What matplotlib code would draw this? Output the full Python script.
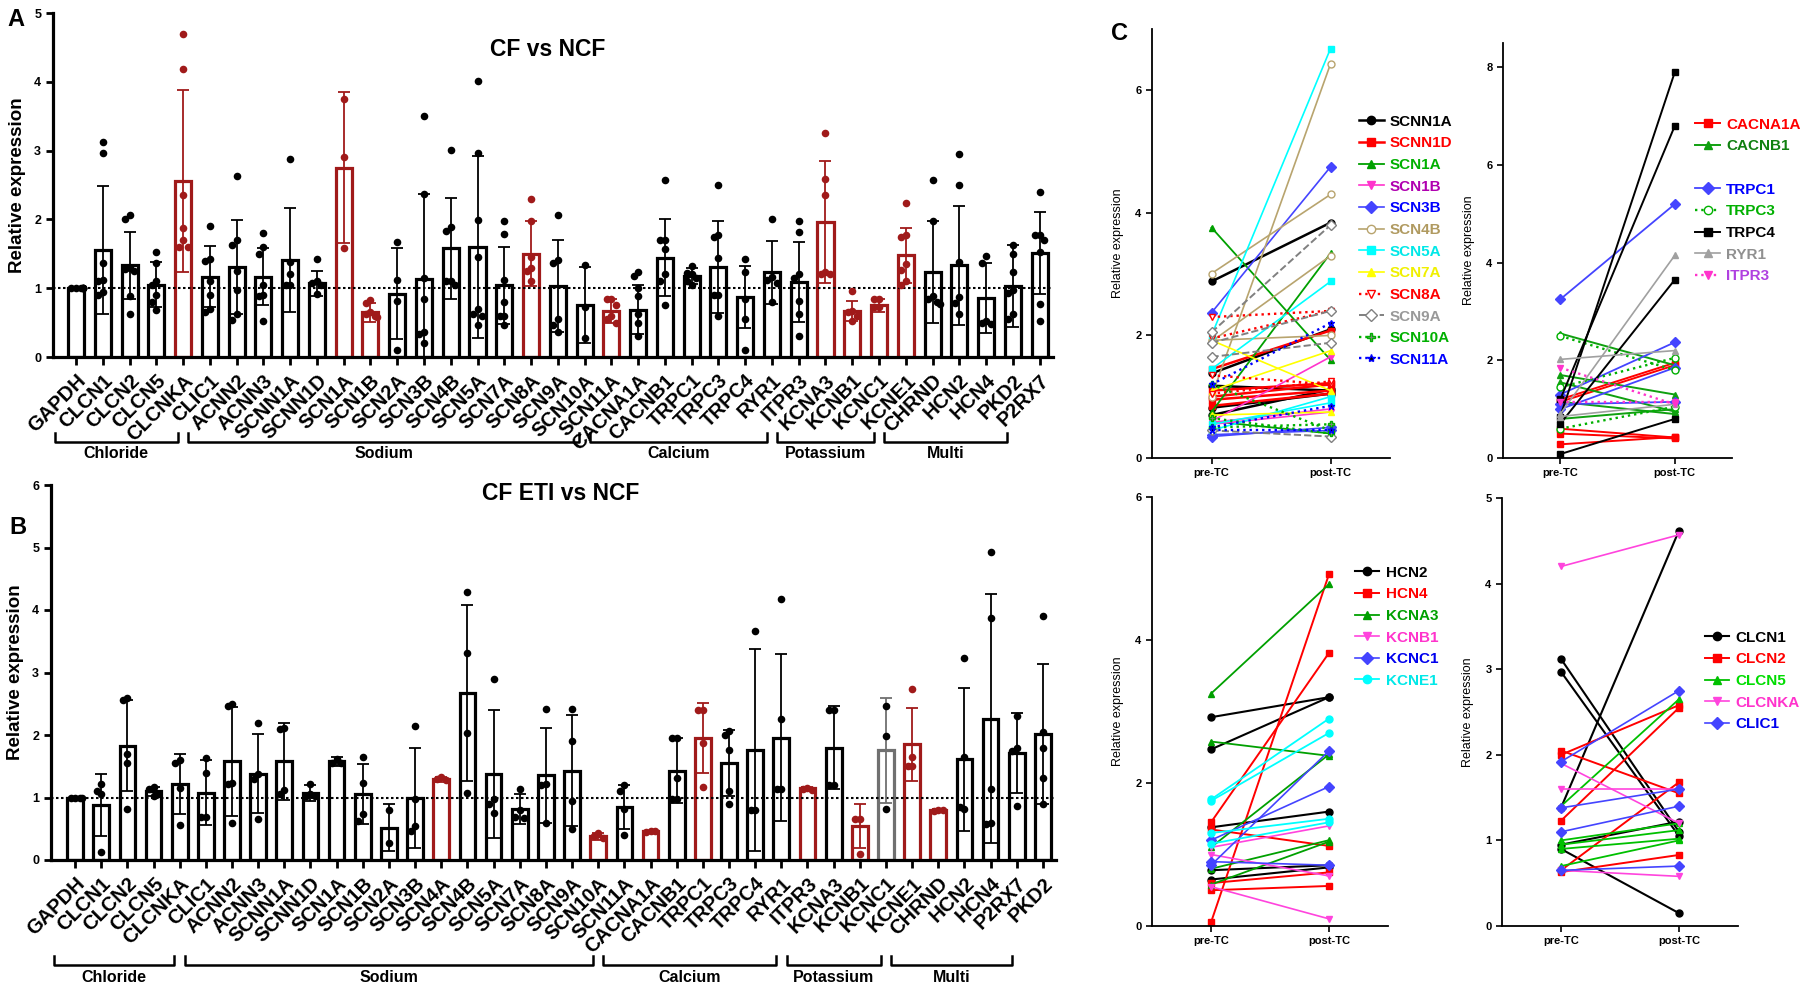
import numpy as np
import matplotlib
matplotlib.use('Agg')
import matplotlib.pyplot as plt
import matplotlib.transforms as mtransforms
from matplotlib.lines import Line2D

plt.rcParams['font.family'] = ['Liberation Sans', 'DejaVu Sans']

# ---------------- Panel A : CF vs NCF ----------------
genes_a = ['GAPDH', 'CLCN1', 'CLCN2', 'CLCN5', 'CLCNKA', 'CLIC1', 'ACNN2', 'ACNN3',
           'SCNN1A', 'SCNN1D', 'SCN1A', 'SCN1B', 'SCN2A', 'SCN3B', 'SCN4B', 'SCN5A',
           'SCN7A', 'SCN8A', 'SCN9A', 'SCN10A', 'SCN11A', 'CACNA1A', 'CACNB1', 'TRPC1',
           'TRPC3', 'TRPC4', 'RYR1', 'ITPR3', 'KCNA3', 'KCNB1', 'KCNC1', 'KCNE1',
           'CHRND', 'HCN2', 'HCN4', 'PKD2', 'P2RX7']
mean_a = [1.0, 1.56, 1.33, 1.05, 2.56, 1.17, 1.31, 1.17, 1.41, 1.07, 2.75, 0.65, 0.92,
          1.14, 1.58, 1.6, 1.04, 1.5, 1.03, 0.76, 0.67, 0.69, 1.44, 1.18, 1.31, 0.87,
          1.23, 1.09, 1.96, 0.67, 0.75, 1.48, 1.23, 1.33, 0.86, 1.03, 1.51]
sd_a = [0.0, 0.93, 0.49, 0.33, 1.32, 0.45, 0.68, 0.41, 0.75, 0.18, 1.1, 0.14, 0.66,
        1.23, 0.73, 1.32, 0.56, 0.47, 0.67, 0.55, 0.17, 0.35, 0.56, 0.12, 0.67, 0.45,
        0.46, 0.58, 0.89, 0.15, 0.09, 0.4, 0.74, 0.87, 0.51, 0.6, 0.6]
dots_a = [
    [1, 1, 1, 1, 1, 1, 1],
    [3.12, 2.96, 1.37, 1.12, 1.1, 0.95, 0.9],
    [2.06, 2.0, 1.3, 1.28, 1.25, 0.88, 0.62],
    [1.53, 1.37, 1.1, 1.05, 0.9, 0.8, 0.68],
    [4.69, 4.18, 2.36, 1.88, 1.7, 1.6, 1.6],
    [1.9, 1.42, 1.4, 1.1, 0.9, 0.7, 0.65],
    [2.63, 1.7, 1.63, 1.25, 0.97, 0.62, 0.54],
    [1.8, 1.6, 1.5, 1.05, 0.9, 0.88, 0.53],
    [2.88, 1.38, 1.2, 1.05, 1.05],
    [1.43, 1.1, 1.08, 1.05, 0.92],
    [3.75, 2.91, 1.58],
    [0.83, 0.78, 0.65, 0.62, 0.6, 0.58],
    [1.67, 1.12, 0.82, 0.1],
    [3.51, 2.37, 1.15, 0.85, 0.37, 0.33, 0.2],
    [3.01, 1.89, 1.83, 1.1, 1.1, 1.05],
    [4.01, 2.96, 1.99, 1.45, 0.7, 0.63, 0.6, 0.47],
    [1.98, 1.79, 1.12, 0.8, 0.6, 0.6, 0.47],
    [2.3, 1.97, 1.45, 1.3, 1.25, 1.1],
    [2.06, 1.41, 1.36, 0.55, 0.46, 0.37],
    [1.34, 0.72, 0.28],
    [0.84, 0.84, 0.75, 0.6, 0.55, 0.5],
    [1.23, 1.18, 1.0, 0.88, 0.62, 0.5, 0.3],
    [2.57, 1.7, 1.7, 1.57, 1.2, 1.1, 0.75],
    [1.32, 1.22, 1.2, 1.15, 1.1, 1.05],
    [2.5, 1.77, 1.74, 1.44, 0.9, 0.9, 0.6],
    [1.43, 1.23, 0.85, 0.55, 0.1],
    [2.0, 1.16, 1.12, 1.08, 0.8],
    [1.97, 1.82, 1.2, 1.15, 0.82, 0.62, 0.31],
    [3.26, 2.59, 2.35, 1.23, 1.2, 1.2],
    [0.96, 0.67, 0.65, 0.6, 0.52],
    [0.84, 0.84, 0.72, 0.72],
    [2.24, 1.77, 1.75, 1.35, 1.27, 1.1, 1.05],
    [2.57, 1.98, 0.88, 0.85, 0.8, 0.77],
    [2.95, 2.5, 1.38, 0.87, 0.78, 0.63],
    [1.47, 1.37, 0.53, 0.5, 0.48],
    [1.63, 1.5, 1.23, 0.98, 0.93, 0.62, 0.55],
    [2.4, 1.77, 1.77, 1.7, 1.52, 0.77, 0.52],
]
red_a = ['CLCNKA', 'SCN1A', 'SCN1B', 'SCN8A', 'SCN11A', 'KCNA3', 'KCNB1', 'KCNC1', 'KCNE1']
groups_a = [('Chloride', 'CLCN1', 'CLIC1'), ('Sodium', 'ACNN2', 'SCN11A'),
            ('Calcium', 'CACNA1A', 'ITPR3'), ('Potassium', 'KCNA3', 'KCNE1'),
            ('Multi', 'CHRND', 'P2RX7')]

# ---------------- Panel B : CF ETI vs NCF ----------------
genes_b = ['GAPDH', 'CLCN1', 'CLCN2', 'CLCN5', 'CLCNKA', 'CLIC1', 'ACNN2', 'ACNN3',
           'SCNN1A', 'SCNN1D', 'SCN1A', 'SCN1B', 'SCN2A', 'SCN3B', 'SCN4A', 'SCN4B',
           'SCN5A', 'SCN7A', 'SCN8A', 'SCN9A', 'SCN10A', 'SCN11A', 'CACNA1A', 'CACNB1',
           'TRPC1', 'TRPC3', 'TRPC4', 'RYR1', 'ITPR3', 'KCNA3', 'KCNB1', 'KCNC1',
           'KCNE1', 'CHRND', 'HCN2', 'HCN4', 'P2RX7', 'PKD2']
mean_b = [1.0, 0.88, 1.83, 1.1, 1.22, 1.08, 1.58, 1.38, 1.58, 1.07, 1.58, 1.06, 0.52,
          1.0, 1.29, 2.67, 1.38, 0.81, 1.36, 1.43, 0.38, 0.85, 0.46, 1.43, 1.96, 1.55,
          1.76, 1.96, 1.15, 1.8, 0.55, 1.76, 1.85, 0.8, 1.61, 2.26, 1.71, 2.02]
sd_b = [0.0, 0.5, 0.73, 0.07, 0.48, 0.52, 0.87, 0.63, 0.62, 0.13, 0.07, 0.48, 0.38,
        0.8, 0.04, 1.41, 1.02, 0.24, 0.76, 0.89, 0.06, 0.35, 0.01, 0.52, 0.56, 0.53,
        1.62, 1.34, 0.02, 0.66, 0.35, 0.84, 0.59, 0.02, 1.14, 1.99, 0.64, 1.12]
dots_b = [
    [1.0, 1.0, 1.0, 1.0],
    [1.22, 1.1, 1.06, 0.13],
    [2.6, 2.56, 1.69, 1.55, 0.82],
    [1.17, 1.14, 1.05, 1.02],
    [1.6, 1.55, 1.15, 0.56],
    [1.63, 1.39, 0.69, 0.69],
    [2.5, 2.47, 1.23, 1.21, 0.6],
    [2.19, 1.38, 1.3, 0.65],
    [2.12, 2.1, 1.12, 1.05],
    [1.22, 1.05, 1.03, 1.02],
    [1.62, 1.56, 1.55],
    [1.65, 1.24, 0.74, 0.63],
    [0.8, 0.28],
    [2.15, 0.98, 0.55, 0.47],
    [1.33, 1.3, 1.28],
    [4.29, 3.31, 2.03, 1.07],
    [2.9, 0.98, 0.9, 0.76],
    [1.14, 0.8, 0.69, 0.68],
    [2.42, 1.22, 1.2, 0.6],
    [2.42, 1.9, 0.95, 0.5],
    [0.43, 0.38, 0.35],
    [1.2, 1.1, 0.82, 0.4],
    [0.46, 0.45, 0.46],
    [1.96, 1.96, 1.32, 0.97, 0.97],
    [2.4, 2.4, 1.88, 1.17],
    [2.06, 2.0, 1.76, 1.1, 0.9],
    [3.67, 0.8, 0.8],
    [4.18, 2.26, 1.14, 1.14],
    [1.15, 1.13, 1.12],
    [2.4, 2.4, 1.2, 1.2],
    [0.65, 0.65, 0.1],
    [2.47, 1.98, 0.82],
    [2.73, 1.65, 1.5, 1.5],
    [0.8, 0.79, 0.8],
    [3.24, 1.65, 0.82, 0.85],
    [4.93, 3.88, 1.13, 0.6, 0.57],
    [2.3, 1.8, 1.75, 0.86],
    [3.9, 2.05, 1.8, 1.32, 0.9],
]
red_b = ['SCN4A', 'SCN10A', 'CACNA1A', 'TRPC1', 'ITPR3', 'KCNB1', 'KCNE1', 'CHRND']
grey_b = ['KCNC1']
groups_b = [('Chloride', 'CLCN1', 'CLIC1'), ('Sodium', 'ACNN2', 'SCN11A'),
            ('Calcium', 'CACNA1A', 'ITPR3'), ('Potassium', 'KCNA3', 'KCNE1'),
            ('Multi', 'CHRND', 'PKD2')]

# ---------------- Panel C : pre-TC / post-TC pairs ----------------
sodium_genes = ['SCNN1A', 'SCNN1D', 'SCN1A', 'SCN1B', 'SCN3B', 'SCN4B', 'SCN5A',
                'SCN7A', 'SCN8A', 'SCN9A', 'SCN10A', 'SCN11A']
sodium_pre = [[2.88, 1.38, 1.18, 0.82, 0.7], [1.45, 1.1, 1.0, 0.95, 0.85],
              [3.76, 0.75, 0.6], [0.6, 0.55, 0.58], [2.37, 0.35, 0.38],
              [3.01, 1.0, 1.9, 1.92], [2.0, 1.45, 0.55, 0.45], [1.92, 1.1, 0.7],
              [2.3, 1.95, 1.35, 1.05], [2.05, 1.65, 1.88, 0.45], [1.2, 0.65, 0.5],
              [1.2, 0.5, 0.45]]
sodium_post = [[3.84, 2.1, 1.1, 1.05, 1.12], [2.08, 1.22, 1.2, 1.1, 1.05],
               [1.6, 3.34, 0.4], [1.65, 0.75, 0.8], [4.75, 0.5, 0.45],
               [4.3, 6.43, 3.3, 2.0], [6.68, 2.88, 0.9, 1.0], [1.1, 1.75, 0.75],
               [2.4, 2.4, 1.2, 1.25], [3.8, 1.88, 2.4, 0.35], [0.45, 0.4, 0.55],
               [2.2, 0.85, 0.45]]

calcium_genes = ['CACNA1A', 'CACNB1', 'TRPC1', 'TRPC3', 'TRPC4', 'RYR1', 'ITPR3']
calcium_pre = [[1.2, 1.15, 0.6, 0.5, 0.28], [2.55, 1.7, 1.55, 1.15, 0.8],
               [3.25, 1.3, 1.1, 1.0], [2.5, 0.6, 1.45], [0.08, 0.85, 1.2, 0.7],
               [2.02, 0.9, 0.85], [1.85, 1.15]]
calcium_post = [[1.95, 1.9, 0.42, 0.4, 0.43], [1.9, 1.3, 0.95, 0.9, 1.0],
                [5.2, 2.37, 1.15, 1.85], [1.8, 1.05, 2.05], [0.8, 7.9, 6.8, 3.65],
                [2.2, 4.15, 1.1], [1.1, 1.15]]

potassium_genes = ['HCN2', 'HCN4', 'KCNA3', 'KCNB1', 'KCNC1', 'KCNE1']
potassium_pre = [[2.92, 2.47, 1.38, 0.78, 0.65], [0.05, 1.45, 1.35, 0.6, 0.5],
                 [3.25, 2.58, 1.1, 0.8, 0.58], [1.0, 0.55, 1.1], [0.85, 1.2, 0.9],
                 [1.77, 1.75, 1.3, 1.15]]
potassium_post = [[3.2, 3.2, 1.6, 0.85, 0.82], [4.92, 3.82, 1.12, 0.75, 0.56],
                  [4.78, 2.38, 2.4, 1.2, 1.18], [0.7, 0.1, 1.4], [2.45, 1.95, 0.85],
                  [2.9, 2.7, 1.5, 1.45]]

chloride_genes = ['CLCN1', 'CLCN2', 'CLCN5', 'CLCNKA', 'CLIC1']
chloride_pre = [[3.12, 2.97, 1.38, 0.95, 0.9], [2.05, 2.0, 1.23, 0.65, 0.63],
                [1.4, 1.0, 0.95, 0.7, 0.9], [4.2, 1.9, 1.6, 0.65],
                [1.92, 1.38, 1.1, 0.65]]
chloride_post = [[1.1, 1.05, 4.62, 1.22, 0.15], [1.55, 2.58, 2.55, 1.68, 0.83],
                 [2.65, 1.2, 1.12, 1.0, 1.02], [4.57, 1.2, 1.6, 0.58],
                 [2.75, 1.6, 1.4, 0.7]]

# styles: line colour, marker, linestyle, linewidth, marker face, legend text colour
pair_styles = {
    'SCNN1A': ('black', 'o', '-', 1.8, 'black', 'black'),
    'SCNN1D': ('#FF0000', 's', '-', 1.8, '#FF0000', '#FF0000'),
    'SCN1A': ('#00A000', '^', '-', 1.3, '#00A000', '#00B000'),
    'SCN1B': ('#FF33CC', 'v', '-', 1.2, '#FF33CC', '#B000B0'),
    'SCN3B': ('#4444FF', 'D', '-', 1.2, '#4444FF', '#0000FF'),
    'SCN4B': ('#B8A46E', 'o', '-', 1.2, 'white', '#B09A60'),
    'SCN5A': ('#00FFFF', 's', '-', 1.2, '#00FFFF', '#00E8E8'),
    'SCN7A': ('#FFFF00', '^', '-', 1.2, '#FFFF00', '#F0F000'),
    'SCN8A': ('#FF0000', 'v', ':', 1.7, 'white', '#FF0000'),
    'SCN9A': ('#808080', 'D', '--', 1.4, 'white', '#999999'),
    'SCN10A': ('#00B000', 'P', ':', 1.7, '#888888', '#00B000'),
    'SCN11A': ('#0000FF', '*', ':', 1.7, 'black', '#0000FF'),
    'CACNA1A': ('#FF0000', 's', '-', 1.4, '#FF0000', '#FF0000'),
    'CACNB1': ('#10A010', '^', '-', 1.4, '#10A010', '#108010'),
    'TRPC1': ('#4444FF', 'D', '-', 1.3, '#4444FF', '#0000FF'),
    'TRPC3': ('#00B000', 'o', ':', 1.7, 'white', '#00B000'),
    'TRPC4': ('black', 's', '-', 1.4, 'black', 'black'),
    'RYR1': ('#A0A0A0', '^', '-', 1.2, '#A0A0A0', '#909090'),
    'ITPR3': ('#FF33CC', 'v', ':', 1.7, '#FF33CC', '#B040E0'),
    'HCN2': ('black', 'o', '-', 1.5, 'black', 'black'),
    'HCN4': ('#FF0000', 's', '-', 1.4, '#FF0000', '#FF0000'),
    'KCNA3': ('#00A000', '^', '-', 1.3, '#00A000', '#00A000'),
    'KCNB1': ('#FF44DD', 'v', '-', 1.2, '#FF44DD', '#FF33CC'),
    'KCNC1': ('#4444FF', 'D', '-', 1.2, '#4444FF', '#0000EE'),
    'KCNE1': ('#00FFFF', 'o', '-', 1.3, '#00FFFF', '#00E8E8'),
    'CLCN1': ('black', 'o', '-', 1.5, 'black', 'black'),
    'CLCN2': ('#FF0000', 's', '-', 1.4, '#FF0000', '#FF0000'),
    'CLCN5': ('#00C000', '^', '-', 1.3, '#00C000', '#00DD00'),
    'CLCNKA': ('#FF44DD', 'v', '-', 1.2, '#FF44DD', '#FF33CC'),
    'CLIC1': ('#4444FF', 'D', '-', 1.2, '#4444FF', '#0000EE'),
}

RED = '#A01A1A'
GREY = '#707070'

fig = plt.figure(figsize=(18, 9.91), dpi=100)


def spread_offsets(values, y_thr):
    """Spostamenti orizzontali per i punti sovrapposti (stile GraphPad)"""
    cands = [0.0, -0.17, 0.17, -0.085, 0.085, -0.26, 0.26]
    placed = []
    offs = []
    for v in values:
        chosen = cands[-1]
        for c in cands:
            if all(abs(c - pc) >= 0.16 or abs(v - pv) >= y_thr for pc, pv in placed):
                chosen = c
                break
        placed.append((chosen, v))
        offs.append(chosen)
    return offs


def draw_bar_panel(rect, genes, means, sds, dots, red_genes, grey_genes, ymax, xlim,
                   title, title_xy, groups, bracket_y, text_y):
    ax = fig.add_axes(rect)
    for i, g in enumerate(genes):
        col = RED if g in red_genes else (GREY if g in grey_genes else 'black')
        dot_col = RED if g in red_genes else 'black'
        ax.bar(i, means[i], width=0.6, facecolor='white', edgecolor=col,
               linewidth=2.3, zorder=2)
        if sds[i] > 0:
            ax.errorbar(i, means[i], yerr=sds[i], color=col, lw=1.3, capsize=4,
                        capthick=1.3, zorder=3)
        offs = spread_offsets(dots[i], 0.11 * ymax / 5)
        ax.scatter(i + np.array(offs), dots[i], s=30, color=dot_col, zorder=4,
                   linewidths=0)
    ax.axhline(1, color='black', ls=(0, (1.2, 1.2)), lw=1.5, zorder=2.5)

    ax.set_xlim(*xlim)
    ax.set_ylim(0, ymax)
    ax.set_yticks(range(0, ymax + 1))
    ax.set_xticks(np.arange(len(genes)))
    ax.set_xticklabels(genes, rotation=45, ha='right', va='top',
                       rotation_mode='anchor', fontsize=14.5, fontweight='bold')
    ax.tick_params(axis='x', length=6, width=2, pad=4)
    ax.tick_params(axis='y', length=5, width=2, labelsize=9)
    for t in ax.get_yticklabels():
        t.set_fontweight('bold')
    for s in ['top', 'right']:
        ax.spines[s].set_visible(False)
    for s in ['left', 'bottom']:
        ax.spines[s].set_linewidth(2.3)
    ax.set_ylabel('Relative expression', fontsize=13.5, fontweight='bold', labelpad=6)

    fig.text(title_xy[0], title_xy[1], title, ha='center', va='center',
             fontsize=16.5, fontweight='bold')

    # parentesi dei gruppi sotto le etichette
    trans = mtransforms.blended_transform_factory(ax.transData, fig.transFigure)
    for name, first, last in groups:
        x0 = genes.index(first) - 1.8
        x1 = genes.index(last) - 1.2
        h = 0.009
        ax.plot([x0, x0, x1, x1], [bracket_y + h, bracket_y, bracket_y, bracket_y + h],
                transform=trans, color='black', lw=1.8, clip_on=False)
        ax.text((x0 + x1) / 2, text_y, name, transform=trans, ha='center', va='center',
                fontsize=11.5, fontweight='bold')
    return ax


def draw_pair_panel(rect, genes, pre, post, ymax, yticks, leg_anchor, gap_after=None):
    ax = fig.add_axes(rect)
    for g, p0, p1 in zip(genes, pre, post):
        col, mk, ls, lw, mfc, _ = pair_styles[g]
        for a, b in zip(p0, p1):
            ax.plot([0, 1], [a, b], color=col, ls=ls, lw=lw, marker=mk, ms=5,
                    mfc=mfc, mec=col, mew=1.0)
    ax.set_xlim(-0.5, 1.5)
    ax.set_ylim(0, ymax)
    ax.set_yticks(yticks)
    ax.set_xticks([0, 1])
    ax.set_xticklabels(['pre-TC', 'post-TC'], fontsize=9, fontweight='bold')
    ax.tick_params(axis='both', length=4, width=1.2, labelsize=8)
    for t in ax.get_yticklabels():
        t.set_fontweight('bold')
    for s in ['top', 'right']:
        ax.spines[s].set_visible(False)
    for s in ['left', 'bottom']:
        ax.spines[s].set_linewidth(1.3)
    ax.set_ylabel('Relative expression', fontsize=9, labelpad=8)

    handles, labels, colors = [], [], []
    for g in genes:
        col, mk, ls, lw, mfc, tcol = pair_styles[g]
        handles.append(Line2D([0], [0], color=col, ls=ls, lw=lw, marker=mk, ms=6,
                              mfc=mfc, mec=col))
        labels.append(g)
        colors.append(tcol)
        if g == gap_after:
            handles.append(Line2D([], [], ls='none'))
            labels.append(' ')
            colors.append('white')
    leg = ax.legend(handles, labels, loc='upper left', bbox_to_anchor=leg_anchor,
                    frameon=False, prop={'weight': 'bold', 'size': 11},
                    handlelength=1.6, handletextpad=0.4, labelspacing=0.5,
                    borderpad=0, borderaxespad=0)
    for t, c in zip(leg.get_texts(), colors):
        t.set_color(c)
    return ax


W, H = 1800.0, 991.0

draw_bar_panel([53 / W, 1 - 357 / H, 1000 / W, 344 / H], genes_a, mean_a, sd_a, dots_a,
               red_a, [], 5, (-0.86, 36.5), 'CF vs NCF', (548 / W, 1 - 50 / H),
               groups_a, 1 - 442 / H, 1 - 453 / H)
draw_bar_panel([51 / W, 1 - 860 / H, 1005 / W, 375 / H], genes_b, mean_b, sd_b, dots_b,
               red_b, grey_b, 6, (-0.92, 37.5), 'CF ETI vs NCF', (561 / W, 1 - 493 / H),
               groups_b, 1 - 965 / H, 1 - 977 / H)

draw_pair_panel([1152 / W, 1 - 458 / H, 238 / W, 429 / H], sodium_genes, sodium_pre,
                sodium_post, 7, [0, 2, 4, 6], (0.87, 0.80))
draw_pair_panel([1503 / W, 1 - 458 / H, 229 / W, 415 / H], calcium_genes, calcium_pre,
                calcium_post, 8.5, [0, 2, 4, 6, 8], (0.84, 0.82), gap_after='CACNB1')
draw_pair_panel([1152 / W, 1 - 926 / H, 236 / W, 429 / H], potassium_genes,
                potassium_pre, potassium_post, 6, [0, 2, 4, 6], (0.86, 0.84))
draw_pair_panel([1502 / W, 1 - 926 / H, 236 / W, 428 / H], chloride_genes, chloride_pre,
                chloride_post, 5, [0, 1, 2, 3, 4, 5], (0.86, 0.69))

# lettere dei pannelli
fig.text(16 / W, 1 - 20 / H, 'A', fontsize=17, fontweight='bold', ha='center', va='center')
fig.text(18 / W, 1 - 527 / H, 'B', fontsize=17, fontweight='bold', ha='center', va='center')
fig.text(1120 / W, 1 - 33 / H, 'C', fontsize=17, fontweight='bold', ha='center', va='center')

fig.savefig('out.png', dpi=100)
